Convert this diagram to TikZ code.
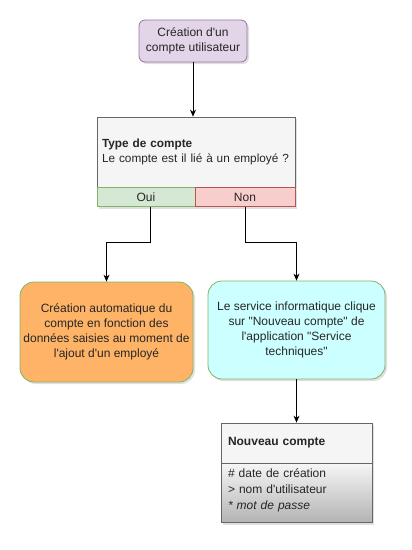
\documentclass[tikz,border=0pt]{standalone}
\usepackage{fontspec}
\setmainfont{Liberation Sans}[Ligatures=TeXOff]
\usetikzlibrary{arrows.meta,positioning,shadows}
\definecolor{startFill}{HTML}{E1D5E7}
\definecolor{startLine}{HTML}{9673A6}
\definecolor{greyFill}{HTML}{F5F5F5}
\definecolor{greyLine}{HTML}{666666}
\definecolor{ouiFill}{HTML}{D5E8D4}
\definecolor{ouiLine}{HTML}{82B366}
\definecolor{nonFill}{HTML}{F8CECC}
\definecolor{nonLine}{HTML}{B85450}
\definecolor{autoFill}{HTML}{FFB366}
\definecolor{techFill}{HTML}{CCFFFF}
\definecolor{bodyBot}{HTML}{B3B3B3}

\begin{document}
\begin{tikzpicture}[x=1pt,y=-1pt,>={Stealth[length=7pt,width=6pt]},
  every node/.style={font=\fontsize{12}{15}\selectfont, text=black!85},
  shade/.style={drop shadow={shadow xshift=2pt,shadow yshift=-2pt,opacity=.25}},
  stepbox/.style={draw, rounded corners=14pt, align=center, shade, line width=0.8pt},
  part/.style={draw, line width=0.8pt, shade, inner sep=0pt},
  link/.style={->, line width=0.8pt}]
\useasboundingbox (0,0) rectangle (412,550);
% start
\node[stepbox, rounded corners=6pt, fill=startFill, draw=startLine,
  minimum width=108, minimum height=42] (start) at (193,41)
  {Création d'un\\compte utilisateur};
% question with the two answers
\node[part, fill=greyFill, draw=greyLine, minimum width=198, minimum height=70,
  text width=188, align=left, font=\fontsize{11.8}{15}\selectfont] (typ) at (196,152)
  {\textbf{Type de compte}\\Le compte est il lié à un employé ?};
\node[part, fill=ouiFill, draw=ouiLine, minimum width=98, minimum height=19,
  anchor=north west] (oui) at (typ.south west) {Oui};
\node[part, fill=nonFill, draw=nonLine, minimum width=100, minimum height=19,
  anchor=north east] (non) at (typ.south east) {Non};
% the two ways
\node[stepbox, fill=autoFill, draw=ouiLine, minimum width=173, minimum height=100]
  (auto) at (106.5,332)
  {Création automatique du\\compte en fonction des\\données saisies au moment de\\l'ajout d'un employé};
\node[stepbox, fill=techFill, draw=ouiLine, minimum width=177, minimum height=98]
  (tech) at (296.5,330)
  {Le service informatique clique\\sur "Nouveau compte" de\\l'application "Service\\techniques"};
% new account
\node[part, fill=greyFill, draw=greyLine, minimum width=151, minimum height=40,
  text width=137, align=left] (ncTitle) at (296.5,443) {\textbf{Nouveau compte}};
\node[part, draw=greyLine, top color=greyFill, bottom color=bodyBot,
  minimum width=151, minimum height=59, text width=137, align=left,
  anchor=north, font=\fontsize{12}{16}\selectfont] (ncBody) at (ncTitle.south)
  {\# date de création\\> nom d'utilisateur\\\textit{* mot de passe}\\[-8pt]\mbox{}};
% connectors
\draw[link] (start.south) -- (start.south |- typ.north);
\draw[link] ([xshift=4pt]oui.south) -- ++(0,35) -| (auto.north);
\draw[link] (non.south) -- ++(0,35) -| (tech.north);
\draw[link] (tech) -- (ncTitle);
\end{tikzpicture}
\end{document}
